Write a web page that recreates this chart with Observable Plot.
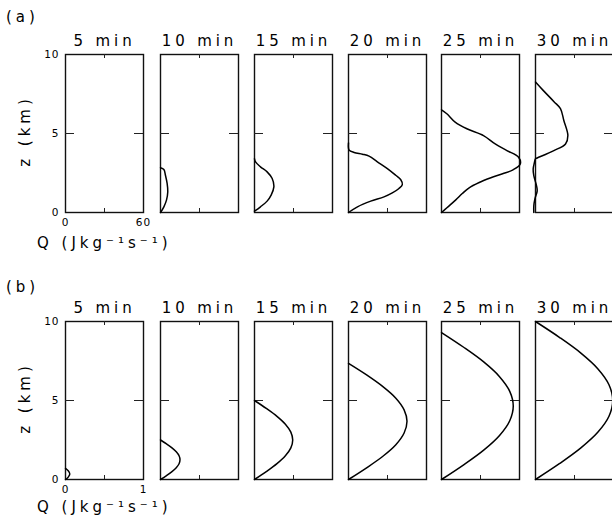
<!DOCTYPE html>
<html>
<head>
<meta charset="utf-8">
<script src="https://cdn.jsdelivr.net/npm/d3@7"></script>
<script src="https://cdn.jsdelivr.net/npm/@observablehq/plot@0.6"></script>
<style>
  html, body { margin: 0; padding: 0; background: #fff; overflow: hidden; }
  #fig { position: relative; width: 612px; height: 521px; font-family: "DejaVu Sans", sans-serif; color: #000; overflow: hidden; }
  .panel { position: absolute; }
  .panel svg { max-width: none !important; }
</style>
</head>
<body>
<div id="fig"></div>
<script>
// Panel titles (time after initiation)
const times = ["5 min", "10 min", "15 min", "20 min", "25 min", "30 min"];
const rowLabels = ["(a)", "(b)"];
const zLabel = "z (km)";
const qLabel = "Q (Jkg\u207B\u00B9s\u207B\u00B9)";

// Axis ticks
const zTicks = [0, 5, 10];
const zMid = [5];
const qTicksA = [0, 60];
const qMidA = [30];
const qTicksB = [0, 1];
const qMidB = [0.5];

// (a) heating profiles, [z (km), Q (J kg-1 s-1)]
const a05 = [];
const a10 = [[0, 0], [0.36, 2.6], [0.78, 4.6], [1.31, 5.6], [1.84, 5.1], [2.36, 3.8], [2.72, 2.6], [2.83, 0]];
const a15 = [[0.08, 0], [0.36, 4.6], [0.72, 9.7], [1.1, 12.8], [1.62, 14.9], [2.15, 13.6], [2.57, 9.7], [2.89, 4.6], [3.2, 0.8], [3.4, 0]];
const a20 = [[0, 0], [0.36, 6.9], [0.72, 17.1], [0.99, 27.3], [1.24, 33.7], [1.52, 38.8], [1.77, 41.4], [2.09, 40.1], [2.36, 36.3], [2.78, 29.9], [3.21, 22.2], [3.57, 15.8], [3.69, 10.7], [3.8, 4.3], [3.95, 0.5], [4.4, 0]];
const a25 = [[0, 0], [0.32, 4.4], [0.8, 11], [1.2, 16], [1.55, 21], [1.9, 29], [2.2, 38], [2.45, 47], [2.7, 55], [3.07, 60.6], [3.5, 59.3], [3.92, 50.3], [4.34, 41.3], [4.87, 32.3], [5.3, 19.5], [5.72, 10.5], [6.25, 4.1], [6.5, 0]];
const a30 = [[0, -1.3], [0.42, -1.3], [0.85, -0.5], [1.37, 1.3], [1.69, 0.8], [2.33, -1.3], [2.75, -1.8], [3.1, -1.0], [3.4, 0], [3.45, 1.3], [3.92, 14.1], [4.34, 23.1], [4.87, 24.9], [5.82, 21.8], [6.57, 19.2], [7.0, 14.4], [7.73, 5.9], [8.26, 0]];

// (b) heating profiles, [z (km), Q (J kg-1 s-1)]
const b05 = [[0, 0], [0.15, 0.035], [0.35, 0.055], [0.55, 0.035], [0.7, 0]];
const b10 = [[0, 0], [0.25, 0.077], [0.5, 0.147], [0.75, 0.202], [1.0, 0.238], [1.25, 0.25], [1.5, 0.238], [1.75, 0.202], [2.0, 0.147], [2.25, 0.077], [2.5, 0]];
const b15 = [[0, 0], [0.5, 0.151], [1.0, 0.288], [1.5, 0.396], [2.0, 0.466], [2.5, 0.49], [3.0, 0.466], [3.5, 0.396], [4.0, 0.288], [4.5, 0.151], [5.0, 0]];
const b20 = [[0, 0], [0.74, 0.232], [1.47, 0.441], [2.2, 0.607], [2.94, 0.713], [3.68, 0.75], [4.41, 0.713], [5.15, 0.607], [5.88, 0.441], [6.62, 0.232], [7.35, 0]];
const b25 = [[0, 0], [0.93, 0.284], [1.86, 0.541], [2.79, 0.744], [3.72, 0.875], [4.65, 0.92], [5.58, 0.875], [6.51, 0.744], [7.44, 0.541], [8.37, 0.284], [9.3, 0]];
const b30 = [[0, 0], [1, 0.306], [2, 0.582], [3, 0.801], [4, 0.942], [5, 0.99], [6, 0.942], [7, 0.801], [8, 0.582], [9, 0.306], [10, 0]];

const rowA = [a05, a10, a15, a20, a25, a30];
const rowB = [b05, b10, b15, b20, b25, b30];

// Layout
const PW = 78, PH = 158;
const ML = 40, MR = 12, MT = 32, MB = 26;
const panelLeft = [65, 160, 254, 348, 441, 535];
const rowTop = [54, 321];
const FONT = "DejaVu Sans, sans-serif";

function panel(profile, title, qMax, qLabels, qMid, first) {
  const marks = [
    Plot.frame({stroke: "#111", strokeWidth: 1.4}),
    Plot.tickY(zMid, {y: d => d, insetRight: PW - 9, stroke: "#222"}),
    Plot.tickY(zMid, {y: d => d, insetLeft: PW - 9, stroke: "#222"}),
    Plot.tickX(qMid, {x: d => d, insetBottom: PH - 4, stroke: "#222"}),
    Plot.tickX(qMid, {x: d => d, insetTop: PH - 4, stroke: "#222"}),
    Plot.line(profile, {x: d => d[1], y: d => d[0], curve: "catmull-rom", stroke: "#000", strokeWidth: 1.5}),
    Plot.text([title], {frameAnchor: "top", dy: -9, lineAnchor: "bottom", fontSize: 15, fill: "#000"})
  ];
  if (first) {
    marks.push(Plot.axisY({ticks: zTicks, tickSize: 0, tickPadding: 6, label: null, fontSize: 10.5, tickFormat: d => String(d)}));
    marks.push(Plot.axisX({ticks: qLabels, tickSize: 0, tickPadding: 6, label: null, fontSize: 10.5, tickFormat: d => String(d)}));
  }
  const svg = Plot.plot({
    width: ML + PW + MR,
    height: MT + PH + MB,
    marginLeft: ML, marginRight: MR, marginTop: MT, marginBottom: MB,
    style: {background: "transparent", overflow: "visible", fontFamily: FONT, color: "#000", maxWidth: "none"},
    x: first ? {domain: [0, qMax]} : {domain: [0, qMax], axis: null},
    y: first ? {domain: [0, 10]} : {domain: [0, 10], axis: null},
    marks
  });
  d3.select(svg).selectAll('g[aria-label="text"] text').attr("letter-spacing", "3.9px");
  d3.select(svg).selectAll('g[aria-label="y-axis tick label"] text, g[aria-label="x-axis tick label"] text').attr("letter-spacing", "1px");
  return svg;
}

const fig = document.getElementById("fig");

[[rowA, 60, qTicksA, qMidA], [rowB, 1, qTicksB, qMidB]].forEach(([row, qMax, qLabels, qMid], r) => {
  row.forEach((profile, i) => {
    const div = document.createElement("div");
    div.className = "panel";
    div.style.left = (panelLeft[i] - ML) + "px";
    div.style.top = (rowTop[r] - MT) + "px";
    div.style.width = (ML + PW + MR) + "px";
    div.appendChild(panel(profile, times[i], qMax, qLabels, qMid, i === 0));
    fig.appendChild(div);
  });
});

// Row letters and axis titles
const overlay = d3.select(fig).append("svg")
  .attr("width", 612).attr("height", 521)
  .style("position", "absolute").style("left", "0px").style("top", "0px")
  .style("pointer-events", "none")
  .attr("font-family", FONT).attr("font-size", 15).attr("letter-spacing", "4px").attr("fill", "#000");

const rowLabelBase = [22, 292];
const qLabelBase = [248, 512];
rowLabels.forEach((t, r) => {
  overlay.append("text").attr("x", 6).attr("y", rowLabelBase[r]).text(t);
  overlay.append("text").attr("x", 37).attr("y", qLabelBase[r]).text(qLabel);
  overlay.append("text")
    .attr("transform", `translate(30,${rowTop[r] + PH / 2}) rotate(-90)`)
    .attr("text-anchor", "middle").attr("dx", 2)
    .text(zLabel);
});
</script>
</body>
</html>
